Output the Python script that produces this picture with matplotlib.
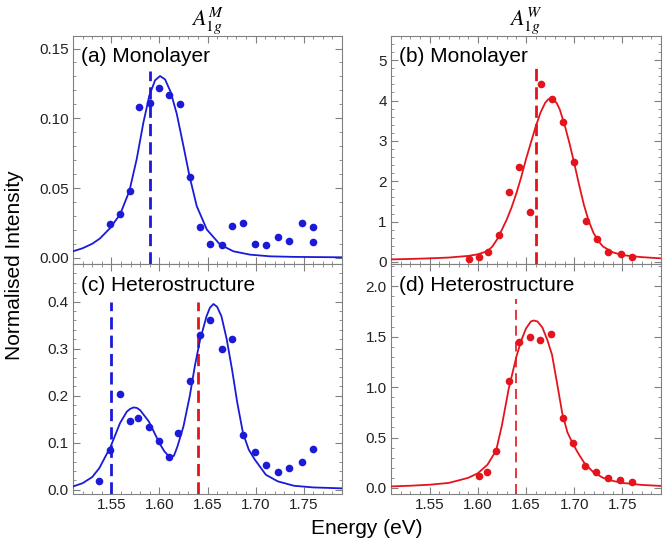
import matplotlib
matplotlib.use("Agg")
import matplotlib.pyplot as plt
from matplotlib.ticker import MultipleLocator, AutoMinorLocator

plt.rcParams['font.family'] = ['Liberation Sans', 'DejaVu Sans']
plt.rcParams['mathtext.fontset'] = 'stix'

# (a) A1g^M monolayer
ea = [1.548, 1.559, 1.569, 1.579, 1.590, 1.600, 1.610, 1.621, 1.632, 1.642, 1.653,
      1.665, 1.676, 1.687, 1.699, 1.711, 1.723, 1.735, 1.748, 1.760, 1.760]
ia = [0.024, 0.031, 0.048, 0.108, 0.111, 0.122, 0.117, 0.110, 0.058, 0.022, 0.010,
      0.009, 0.023, 0.025, 0.010, 0.009, 0.015, 0.012, 0.025, 0.022, 0.011]
fit_ea = [1.51, 1.52, 1.53, 1.538, 1.548, 1.559, 1.5687, 1.5763, 1.5833, 1.5895,
          1.5954, 1.6006, 1.6058, 1.6117, 1.618, 1.6249, 1.6312, 1.6388, 1.6493,
          1.6631, 1.677, 1.6944, 1.7152, 1.74, 1.79]
fit_ia = [0.0046, 0.0068, 0.0100, 0.0138, 0.0208, 0.031, 0.0479, 0.0707, 0.097, 0.1164,
          0.1272, 0.1303, 0.1279, 0.1188, 0.1032, 0.0803, 0.0587, 0.037, 0.0202,
          0.0094, 0.0046, 0.0022, 0.001, 0.0006, 0.0003]

# (b) A1g^W monolayer
eb = [1.591, 1.601, 1.611, 1.622, 1.632, 1.643, 1.654, 1.666, 1.677, 1.688, 1.700,
      1.712, 1.724, 1.735, 1.748, 1.760]
ib = [0.08, 0.13, 0.24, 0.67, 1.73, 2.35, 1.25, 4.42, 4.03, 3.48, 2.49,
      1.01, 0.58, 0.24, 0.21, 0.12]
fit_eb = [1.51, 1.53, 1.55, 1.57, 1.59, 1.60, 1.61, 1.615, 1.62, 1.625, 1.63, 1.635,
          1.64, 1.645, 1.65, 1.655, 1.66, 1.665, 1.67, 1.673, 1.676, 1.679, 1.682,
          1.685, 1.69, 1.695, 1.70, 1.705, 1.71, 1.715, 1.72, 1.725, 1.73, 1.74,
          1.75, 1.77, 1.79]
fit_ib = [0.065, 0.075, 0.09, 0.11, 0.15, 0.19, 0.27, 0.38, 0.56, 0.80, 1.05, 1.35,
          1.70, 2.10, 2.55, 2.95, 3.35, 3.70, 3.95, 4.03, 4.05, 4.02, 3.93,
          3.78, 3.40, 2.95, 2.45, 1.92, 1.42, 1.02, 0.72, 0.52, 0.38, 0.24,
          0.17, 0.12, 0.09]

# (c) A1g^M heterostructure
ec = [1.537, 1.549, 1.559, 1.569, 1.578, 1.589, 1.600, 1.610, 1.619, 1.632, 1.642,
      1.653, 1.665, 1.676, 1.687, 1.699, 1.711, 1.723, 1.735, 1.748, 1.760]
ic = [0.019, 0.085, 0.204, 0.146, 0.153, 0.133, 0.103, 0.070, 0.120, 0.232, 0.328,
      0.360, 0.300, 0.321, 0.116, 0.081, 0.052, 0.037, 0.047, 0.058, 0.087]
fit_ec = [1.51, 1.52, 1.53, 1.5374, 1.5492, 1.559, 1.566, 1.5695, 1.573, 1.5765, 1.58,
          1.589, 1.60, 1.605, 1.61, 1.615, 1.6187, 1.625, 1.6315, 1.637, 1.6423,
          1.649, 1.6525, 1.6562, 1.66, 1.6645, 1.67, 1.6756, 1.681, 1.687, 1.693,
          1.6993, 1.7107, 1.723, 1.74, 1.76, 1.79]
fit_ic = [0.007, 0.014, 0.027, 0.046, 0.092, 0.142, 0.166, 0.172, 0.175, 0.174, 0.169,
          0.145, 0.099, 0.082, 0.0705, 0.072, 0.092, 0.135, 0.199, 0.265, 0.319,
          0.369, 0.387, 0.395, 0.389, 0.369, 0.32, 0.255, 0.185, 0.120, 0.085,
          0.064, 0.032, 0.018, 0.0085, 0.005, 0.003]

# (d) A1g^W heterostructure
ed = [1.601, 1.610, 1.619, 1.632, 1.643, 1.654, 1.665, 1.676, 1.688, 1.699, 1.711,
      1.723, 1.735, 1.747, 1.760]
idd = [0.12, 0.16, 0.37, 1.06, 1.45, 1.50, 1.47, 1.53, 0.69, 0.45, 0.22,
       0.16, 0.10, 0.075, 0.062]
fit_ed = [1.51, 1.53, 1.55, 1.57, 1.59, 1.60, 1.61, 1.619, 1.625, 1.632, 1.64, 1.645,
          1.65, 1.655, 1.658, 1.662, 1.667, 1.672, 1.677, 1.682, 1.6876, 1.693, 1.699,
          1.705, 1.711, 1.72, 1.73, 1.74, 1.75, 1.77, 1.79]
fit_id = [0.015, 0.022, 0.032, 0.05, 0.10, 0.145, 0.23, 0.37, 0.62, 0.98, 1.30, 1.46,
          1.58, 1.65, 1.66, 1.65, 1.59, 1.47, 1.32, 1.05, 0.74, 0.55, 0.43, 0.33,
          0.24, 0.155, 0.10, 0.07, 0.05, 0.03, 0.02]

# dashed marker lines: position, top, colour
lines_a = [(1.59, 0.134, 'b')]
lines_b = [(1.66, 4.8, 'r')]
lines_c = [(1.55, 0.40, 'b'), (1.64, 0.40, 'r')]
lines_d = [(1.64, 1.87, 'r')]

blue = '#1a1ad8'
red = '#e3141c'
cols = {'b': blue, 'r': red}

fig = plt.figure(figsize=(6.66, 5.51), dpi=100)
W, H = 666, 551


def mkax(x0, y0, x1, y1):
    return fig.add_axes([x0 / W, 1 - y1 / H, (x1 - x0) / W, (y1 - y0) / H])


axa = mkax(73, 36, 342, 264)
axb = mkax(391, 36, 661, 264)
axc = mkax(73, 264, 342, 494)
axd = mkax(391, 264, 661, 494)

panels = [
    (axa, ea, ia, fit_ea, fit_ia, blue, lines_a, '(a) Monolayer', (-0.0045, 0.159), 0.05, '%.2f'),
    (axb, eb, ib, fit_eb, fit_ib, red, lines_b, '(b) Monolayer', (-0.05, 5.6), 1, '%d'),
    (axc, ec, ic, fit_ec, fit_ic, blue, lines_c, '(c) Heterostructure', (-0.009, 0.48), 0.1, '%.1f'),
    (axd, ed, idd, fit_ed, fit_id, red, lines_d, '(d) Heterostructure', (-0.06, 2.22), 0.5, '%.1f'),
]

for ax, x, y, fx, fy, c, vl, lab, yl, ymaj, fmt in panels:
    ax.plot(fx, fy, color=c, lw=1.3, zorder=3, solid_joinstyle='round')
    ax.plot(x, y, 'o', color=c, ms=5.5, mec='none', zorder=4)
    for pos, top, cc in vl:
        thin = (ax is axd)
        ax.vlines(pos, yl[0], top, colors=cols[cc], lw=1.2 if thin else 2.0,
                  linestyles=(0, (6, 3.5)) if thin else (0, (4.4, 2.2)), zorder=2)
    ax.set_xlim(1.51, 1.79)
    ax.set_ylim(*yl)
    ax.xaxis.set_major_locator(MultipleLocator(0.05))
    ax.xaxis.set_minor_locator(AutoMinorLocator(5))
    ax.yaxis.set_major_locator(MultipleLocator(ymaj))
    ax.yaxis.set_minor_locator(AutoMinorLocator(5))
    ax.yaxis.set_major_formatter(plt.FormatStrFormatter(fmt))
    ax.tick_params(which='both', direction='in', top=True, right=True,
                   color='#808080', labelsize=11, labelcolor='#222222', pad=3)
    ax.tick_params(which='major', length=5)
    ax.tick_params(which='minor', length=2.5)
    for s in ax.spines.values():
        s.set_color('#808080')
    ax.text(0.03, 0.95, lab, transform=ax.transAxes, fontsize=15, ha='left', va='top')

axa.tick_params(labelbottom=False)
axb.tick_params(labelbottom=False)
axc.xaxis.set_major_formatter(plt.FormatStrFormatter('%.2f'))
axd.xaxis.set_major_formatter(plt.FormatStrFormatter('%.2f'))

axa.set_title(r'$A_{1g}^{M}$', fontsize=16, pad=6)
axb.set_title(r'$A_{1g}^{W}$', fontsize=16, pad=6)

fig.text(0.022, 0.519, 'Normalised Intensity', rotation=90, fontsize=15, ha='center', va='center')
fig.text(0.55, 0.04, 'Energy (eV)', fontsize=15, ha='center', va='center')

fig.savefig('out.png', dpi=100)
